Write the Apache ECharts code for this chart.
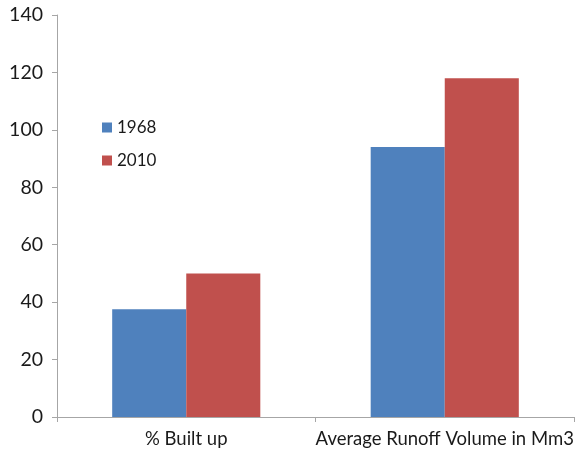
<!DOCTYPE html>
<html><head><meta charset="utf-8">
<script src="https://cdn.jsdelivr.net/npm/echarts@6/dist/echarts.min.js"></script>
<style>html,body{margin:0;padding:0;background:#fff}#c{width:584px;height:454px}</style>
</head><body><div id="c"></div>
<script>
const categories = ['% Built up', 'Average Runoff Volume in Mm3'];
const seriesNames = ['1968', '2010'];
const values1968 = [37.5, 94];
const values2010 = [50, 118];
const yTicks = { min: 0, max: 140, interval: 20 };

const chart = echarts.init(document.getElementById('c'));
const font = 'Lato, "Open Sans", sans-serif';
chart.setOption({
  animation: false,
  grid: { left: 57, right: 10, top: 15, bottom: 37, containLabel: false },
  legend: {
    orient: 'vertical', left: 97, top: 114, itemWidth: 10, itemHeight: 10, itemGap: 16,
    data: seriesNames,
    textStyle: { fontFamily: font, fontSize: 17, color: '#1a1a1a' },
    icon: 'rect'
  },
  xAxis: {
    type: 'category', data: categories,
    axisLine: { lineStyle: { color: '#a6a6a6' } },
    axisTick: { show: true, alignWithLabel: false, length: 5, lineStyle: { color: '#a6a6a6' } },
    axisLabel: { fontFamily: font, fontSize: 18.5, color: '#1a1a1a', margin: 13, interval: 0 }
  },
  yAxis: {
    type: 'value', min: yTicks.min, max: yTicks.max, interval: yTicks.interval,
    axisLine: { show: true, lineStyle: { color: '#a6a6a6' } },
    axisTick: { show: true, length: 5, lineStyle: { color: '#a6a6a6' } },
    splitLine: { show: false },
    axisLabel: { fontFamily: font, fontSize: 19.5, color: '#1a1a1a', margin: 14 }
  },
  series: [
    { name: seriesNames[0], type: 'bar', data: values1968, barGap: '0%', barCategoryGap: '42.7%', itemStyle: { color: '#4f81bd' } },
    { name: seriesNames[1], type: 'bar', data: values2010, barGap: '0%', barCategoryGap: '42.7%', itemStyle: { color: '#c0504d' } }
  ]
});
</script></body></html>
